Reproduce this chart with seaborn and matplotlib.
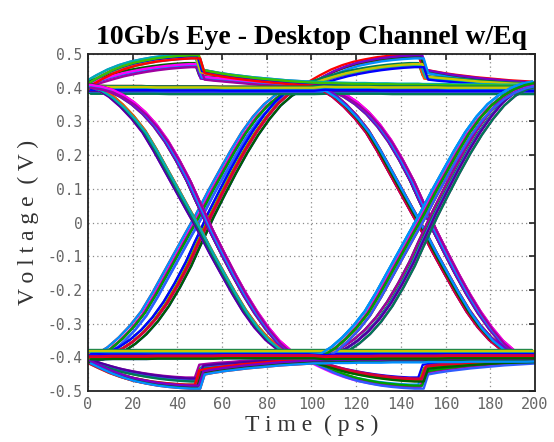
import numpy as np
import pandas as pd
import matplotlib
matplotlib.use("Agg")
import matplotlib.pyplot as plt
import seaborn as sns

# time samples inside one 100 ps unit interval (step of the FFE near 50 ps)
seg_t = [0, 5, 10, 15, 20, 25, 30, 35, 40, 45, 49, 51, 55, 60, 65, 70, 75, 80, 85, 90, 95, 100]

# edges
fall_e = [0.408, 0.397, 0.376, 0.347, 0.312, 0.270, 0.215, 0.155, 0.095, 0.035, -0.012,
          -0.037, -0.088, -0.148, -0.207, -0.262, -0.308, -0.345, -0.372, -0.392, -0.405, -0.412]
fall_l = [0.406, 0.401, 0.392, 0.376, 0.354, 0.325, 0.288, 0.242, 0.186, 0.123, 0.064,
          0.036, -0.022, -0.088, -0.152, -0.212, -0.266, -0.313, -0.353, -0.382, -0.401, -0.410]
rise_e = [-0.408, -0.397, -0.376, -0.347, -0.312, -0.270, -0.215, -0.155, -0.095, -0.035, 0.012,
          0.037, 0.088, 0.148, 0.207, 0.262, 0.308, 0.345, 0.372, 0.392, 0.405, 0.412]
rise_l = [-0.406, -0.401, -0.392, -0.376, -0.354, -0.325, -0.288, -0.242, -0.186, -0.123, -0.064,
          -0.036, 0.022, 0.088, 0.152, 0.212, 0.266, 0.313, 0.353, 0.382, 0.401, 0.410]

# emphasised bit after a transition, then de-emphasis step
emph_hi_up = [0.412, 0.431, 0.448, 0.461, 0.471, 0.478, 0.484, 0.488, 0.491, 0.493, 0.493,
              0.449, 0.444, 0.438, 0.433, 0.429, 0.425, 0.422, 0.419, 0.416, 0.414, 0.412]
emph_hi_dn = [0.410, 0.421, 0.431, 0.440, 0.447, 0.453, 0.458, 0.462, 0.465, 0.467, 0.467,
              0.430, 0.427, 0.424, 0.421, 0.418, 0.415, 0.413, 0.411, 0.409, 0.408, 0.407]
emph_lo_dn = [-0.412, -0.428, -0.443, -0.455, -0.465, -0.472, -0.478, -0.482, -0.485, -0.487, -0.487,
              -0.445, -0.440, -0.435, -0.431, -0.427, -0.424, -0.421, -0.418, -0.416, -0.414, -0.412]
emph_lo_up = [-0.410, -0.420, -0.430, -0.439, -0.446, -0.452, -0.457, -0.461, -0.464, -0.466, -0.466,
              -0.428, -0.425, -0.422, -0.420, -0.417, -0.415, -0.413, -0.411, -0.410, -0.409, -0.408]

# settling after the de-emphasis, and steady levels
settle_hi = [0.412, 0.411, 0.410, 0.409, 0.408, 0.408, 0.407, 0.407, 0.406, 0.406, 0.406,
             0.405, 0.405, 0.405, 0.404, 0.404, 0.404, 0.404, 0.403, 0.403, 0.403, 0.403]
settle_lo = [-0.412, -0.412, -0.411, -0.411, -0.410, -0.410, -0.410, -0.409, -0.409, -0.409, -0.409,
             -0.408, -0.408, -0.408, -0.408, -0.407, -0.407, -0.407, -0.407, -0.407, -0.407, -0.406]
flat_hi_a = [0.400, 0.400, 0.399, 0.399, 0.399, 0.399, 0.398, 0.398, 0.398, 0.398, 0.398,
             0.398, 0.398, 0.397, 0.397, 0.397, 0.397, 0.397, 0.397, 0.397, 0.397, 0.397]
flat_hi_b = [0.388, 0.388, 0.388, 0.388, 0.388, 0.388, 0.388, 0.387, 0.387, 0.387, 0.387,
             0.387, 0.387, 0.387, 0.387, 0.387, 0.387, 0.387, 0.387, 0.387, 0.387, 0.387]
flat_lo_a = [-0.400, -0.400, -0.399, -0.399, -0.399, -0.399, -0.398, -0.398, -0.398, -0.398, -0.398,
             -0.398, -0.398, -0.397, -0.397, -0.397, -0.397, -0.397, -0.397, -0.397, -0.397, -0.397]
flat_lo_b = [-0.385, -0.385, -0.385, -0.385, -0.385, -0.385, -0.385, -0.385, -0.385, -0.385, -0.385,
             -0.385, -0.385, -0.385, -0.385, -0.385, -0.385, -0.385, -0.385, -0.385, -0.385, -0.385]

waves = {"fall_e": fall_e, "fall_l": fall_l, "rise_e": rise_e, "rise_l": rise_l,
         "emph_hi_up": emph_hi_up, "emph_hi_dn": emph_hi_dn,
         "emph_lo_dn": emph_lo_dn, "emph_lo_up": emph_lo_up,
         "settle_hi": settle_hi, "settle_lo": settle_lo,
         "flat_hi_a": flat_hi_a, "flat_hi_b": flat_hi_b,
         "flat_lo_a": flat_lo_a, "flat_lo_b": flat_lo_b}

# (first UI, second UI) bit sequences seen in the 200 ps window
combos = [
    ("rise_e", "emph_hi_up"), ("rise_l", "emph_hi_dn"), ("rise_e", "fall_e"), ("rise_l", "fall_l"),
    ("emph_hi_up", "fall_e"), ("emph_hi_dn", "fall_l"), ("emph_hi_up", "settle_hi"),
    ("flat_hi_b", "flat_hi_b"), ("flat_hi_a", "fall_e"), ("flat_hi_a", "flat_hi_a"),
    ("fall_e", "emph_lo_dn"), ("fall_l", "emph_lo_up"), ("fall_e", "rise_e"), ("fall_l", "rise_l"),
    ("emph_lo_dn", "rise_e"), ("emph_lo_up", "rise_l"), ("emph_lo_dn", "settle_lo"),
    ("flat_lo_b", "flat_lo_b"), ("flat_lo_a", "rise_e"), ("flat_lo_a", "flat_lo_a"),
]

# jitter / noise of the repeated captures (ps, V)
jitter_dt = [-1.2, -0.6, 0.0, 0.6, 1.2]
noise_dv = [0.006, -0.003, 0.0, 0.003, -0.006]

xticks = [0, 20, 40, 60, 80, 100, 120, 140, 160, 180, 200]
yticks = [0.5, 0.4, 0.3, 0.2, 0.1, 0.0, -0.1, -0.2, -0.3, -0.4, -0.5]
ytick_labels = ["0.5", "0.4", "0.3", "0.2", "0.1", "0", "-0.1", "-0.2", "-0.3", "-0.4", "-0.5"]

trace_colors = ["#ff0000", "#00a000", "#0000ff", "#ff00ff", "#00b0b0", "#7a00c8",
                "#007a55", "#d0003c", "#2f5cff", "#3cc000", "#a000a0", "#c8c800",
                "#0090ff", "#ff5000", "#006000", "#5000a0"]

rows = []
n = 0
for k, (a, b) in enumerate(combos):
    for j in range(len(jitter_dt)):
        dt, dv = jitter_dt[j], noise_dv[j]
        name = "L%03d" % n
        for tt, vv in zip(seg_t, waves[a]):
            rows.append((name, tt + dt, vv + dv))
        for tt, vv in zip(seg_t[1:], waves[b][1:]):
            rows.append((name, tt + 100 + dt, vv + dv))
        n += 1
df = pd.DataFrame(rows, columns=["trace", "t", "v"])
pal = [trace_colors[(i * 7 + (i // 5) * 3) % len(trace_colors)] for i in range(n)]

sns.set_theme(style="white")
plt.rcParams["font.family"] = ["DejaVu Sans"]

fig = plt.figure(figsize=(5.54, 4.42), dpi=100)
ax = fig.add_axes([0.1588, 0.1154, 0.8069, 0.7624])

sns.lineplot(data=df, x="t", y="v", hue="trace", palette=pal, estimator=None,
             sort=False, legend=False, linewidth=1.7, ax=ax)

ax.set_xlim(0, 200)
ax.set_ylim(-0.5, 0.5)
ax.set_xticks(xticks)
ax.set_yticks(yticks)
ax.set_yticklabels(ytick_labels)
ax.grid(True, linestyle=(0, (1, 2.5)), color="#8a8a8a", linewidth=0.9)
ax.set_axisbelow(True)
for s in ax.spines.values():
    s.set_color("#222222")
    s.set_linewidth(1.3)
ax.tick_params(direction="in", top=True, right=True, length=4, width=1.2,
               colors="#222222", labelcolor="#666666")
for lab in ax.get_xticklabels():
    lab.set_fontfamily("DejaVu Sans Mono")
    lab.set_fontsize(11)
for lab in ax.get_yticklabels():
    lab.set_fontfamily("DejaVu Sans Mono")
    lab.set_fontsize(10.5)
ax.tick_params(axis="x", pad=4)
ax.tick_params(axis="y", pad=4)

ax.set_xlabel("T i m e  ( p s )", fontfamily="Liberation Serif", fontsize=17,
              color="#333333", labelpad=2)
ax.set_ylabel("V o l t a g e  ( V )", fontfamily="Liberation Serif", fontsize=17,
              color="#333333", labelpad=6)
ax.set_title("10Gb/s Eye - Desktop Channel w/Eq", fontfamily="Liberation Serif",
             fontweight="bold", fontsize=20, color="black", pad=7)

fig.savefig("out.png", dpi=100)
